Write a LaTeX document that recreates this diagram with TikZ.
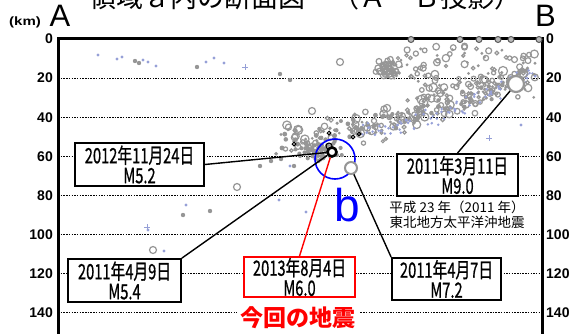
\documentclass[tikz,border=0pt]{standalone}
\usepackage{fontspec}
\usepackage{graphicx}
\setmainfont{Liberation Sans}
\newfontfamily\jp{Noto Sans CJK JP}
\newfontfamily\jpbox[FakeBold=0.9]{Noto Sans CJK JP}
\definecolor{eqgray}{RGB}{150,150,150}
\definecolor{eqblue}{RGB}{150,160,215}
\newcommand{\nrw}[1]{\scalebox{0.70}[1]{#1}}
\tikzset{
  eqo/.style={draw=eqgray,line width=1.2pt},
  eqf/.style={fill=eqgray},
  eqb/.style={fill=eqblue},
  eqx/.style={draw=eqblue,line width=1pt},
  gridline/.style={line width=1.2pt,dash pattern=on 1.5pt off 1.2pt},
  kmlbl/.style={font=\bfseries\fontsize{14}{14}\selectfont,inner sep=0pt},
  evbox/.style={draw,line width=1.8pt,fill=white,inner sep=0pt,align=center,
    font=\jpbox\fontsize{21}{20}\selectfont},
  lead/.style={line width=1.4pt}
}
\begin{document}
\begin{tikzpicture}[x=1pt,y=-1pt]
\useasboundingbox (0,0) rectangle (577,333);
\clip (0,0) rectangle (577,333);
\node[font=\jp\fontsize{27}{27}\selectfont,anchor=base] (title) at (305,7) {領域ａ内の断面図　（Ａ－Ｂ投影）};
\node[font=\bfseries\fontsize{12}{12}\selectfont] (unit) at (25,22) {\scalebox{1.25}[1]{(km)}};
\node[font=\fontsize{31}{31}\selectfont] (ptA) at (60,16) {A};
\node[font=\fontsize{31}{31}\selectfont] (ptB) at (545.5,16) {B};
\foreach \d in {0,20,...,140}{
  \node[kmlbl,anchor=east] (kl\d) at (53,{39+1.955*\d}) {\d};
  \node[kmlbl,anchor=west] (kr\d) at (546,{39+1.955*\d}) {\d};
}
\foreach \d in {20,40,...,140}
  \draw[gridline] (58,{39+1.955*\d}) -- (542,{39+1.955*\d});
\pgfmathsetseed{3}
\foreach \i in {1,...,130}{
  \pgfmathsetmacro\pp{rnd}
  \pgfmathsetmacro\qx{285+250*\pp}
  \pgfmathsetmacro\qy{142-52*\pp-25*\pp^4+22*(rnd+rnd-1)}
  \pgfmathsetmacro\qr{1.4+3.8*rnd*rnd}
  \draw[eqo] (\qx,\qy) circle[radius=\qr pt];
}
\foreach \i in {1,...,120}{
  \pgfmathsetmacro\pp{rnd}
  \pgfmathsetmacro\qx{275+260*\pp}
  \pgfmathsetmacro\qy{144-52*\pp-25*\pp^4+13*(rnd+rnd-1)}
  \pgfmathsetmacro\qr{1.5+rnd}
  \fill[eqf] (\qx,\qy) circle[radius=\qr pt];
}
\foreach \i in {1,...,90}{
  \pgfmathsetmacro\pp{0.3+0.7*rnd}
  \pgfmathsetmacro\qx{285+252*\pp}
  \pgfmathsetmacro\qy{149-52*\pp-25*\pp^4+12*(rnd+rnd-1)}
  \fill[eqb] (\qx,\qy) circle[radius=1.4pt];
}
\foreach \i in {1,...,70}{
  \pgfmathsetmacro\qx{405+130*rnd}
  \pgfmathsetmacro\qy{45+55*rnd}
  \pgfmathsetmacro\qr{1.5+4*rnd*rnd}
  \draw[eqo] (\qx,\qy) circle[radius=\qr pt];
}
\foreach \i in {1,...,30}{
  \pgfmathsetmacro\qx{405+130*rnd}
  \pgfmathsetmacro\qy{45+55*rnd}
  \fill[eqf] (\qx,\qy) circle[radius=1.6pt];
}
\foreach \i in {1,...,35}{
  \pgfmathsetmacro\qx{387+12*(rnd+rnd-1)}
  \pgfmathsetmacro\qy{67+10*(rnd+rnd-1)}
  \pgfmathsetmacro\qr{1.5+2*rnd}
  \draw[eqo] (\qx,\qy) circle[radius=\qr pt];
  \fill[eqf] (\qx+3,\qy+2) circle[radius=1.5pt];
}
\foreach \i in {1,...,70}{
  \pgfmathsetmacro\qx{320+25*(rnd+rnd-1)}
  \pgfmathsetmacro\qy{150+12*(rnd+rnd-1)}
  \fill[eqf] (\qx,\qy) circle[radius=2.1pt];
}
\foreach \x/\y in {98/55,117/59,122/57,143/60,148/62,156/66,206/62,214/58,224/63,
  186/205,279/200,306/212,164/251,148/230,521/125,290/166}
  \fill[eqb] (\x,\y) circle[radius=1.6pt];
\foreach \x/\y in {135/61,139/63,197/67,280/74,290/80,210/211,183/215,260/166,
  271/161,281/159,294/166}
  \fill[eqf] (\x,\y) circle[radius=2.2pt];
\foreach \x/\y in {312/111,340/62,237/187,153/250}
  \draw[eqo] (\x,\y) circle[radius=3.5pt];
\foreach \x/\y in {245/67,147/227,489/138}
  \draw[eqx] (\x-3,\y) -- (\x+3,\y) (\x,\y-3) -- (\x,\y+3);
\foreach \x/\y in {294/144,329/133,353/137,359/134}
  \draw[line width=1pt] (\x,\y) circle[radius=1.8pt];
\draw[line width=3pt] (58,340) -- (58,38.5) -- (542,38.5) -- (542,340);
\foreach \x in {411,460,479,498,511,539}
  \draw[draw=gray!70!black,fill=gray!55,line width=1pt] (\x,39.5) circle[radius=3pt];
\node[draw=blue,circle,line width=1.6pt,minimum size=40pt,inner sep=0pt] (zone) at (335,159) {};
\draw[line width=1pt] (329,146) circle[radius=3pt];
\node[circle,draw=eqgray,line width=2pt,fill=white,minimum size=12pt,inner sep=0pt] (m72) at (351,168) {};
\node[circle,draw=eqgray,line width=2.2pt,fill=white,minimum size=16pt,inner sep=0pt] (m90) at (516,84) {};
\node[circle,draw,line width=2.6pt,fill=white,minimum size=9pt,inner sep=0pt] (m60) at (332,152) {};
\node[text=blue,font=\fontsize{46}{46}\selectfont] (lblb) at (347,205) {b};
\node[evbox,minimum width=129pt,minimum height=43pt] (b2012) at (139.5,164.5) {\nrw{2012年11月24日}\\\nrw{M5.2}};
\node[evbox,minimum width=113pt,minimum height=43pt] (b0409) at (124.5,280.5) {\nrw{2011年4月9日}\\\nrw{M5.4}};
\node[evbox,draw=red,minimum width=111pt,minimum height=40pt] (b0804) at (299.5,277) {\nrw{2013年8月4日}\\\nrw{M6.0}};
\node[evbox,minimum width=109pt,minimum height=42pt] (b0407) at (446.5,279) {\nrw{2011年4月7日}\\\nrw{M7.2}};
\node[evbox,minimum width=121pt,minimum height=42pt] (b0311) at (457.5,175) {\nrw{2011年3月11日}\\\nrw{M9.0}};
\node[font=\jp\fontsize{13.5}{15}\selectfont,align=center] (note) at (457,215) {平成 23 年（2011 年）\\東北地方太平洋沖地震};
\node[fill=white,text=red,font=\jp\bfseries\fontsize{23}{23}\selectfont,minimum width=123pt,inner ysep=6pt] (kaisin) at (298,318) {今回の地震};
\draw[lead] (b2012.east) -- (m60);
\draw[lead] (b0409.north east) -- (m60);
\draw[lead,red] (b0804.north) -- (m60);
\draw[lead] (b0407.north west) -- (m72);
\draw[lead] (b0311.north) -- (m90);
\end{tikzpicture}
\end{document}
